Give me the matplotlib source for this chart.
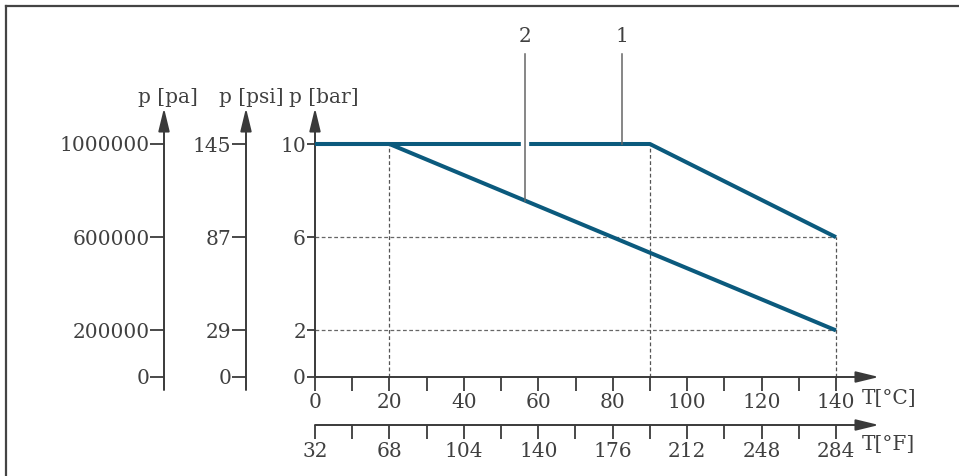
import numpy as np
import matplotlib
matplotlib.use('Agg')
import matplotlib.pyplot as plt
from matplotlib.lines import Line2D

# values
temp_c_ticks = [0, 20, 40, 60, 80, 100, 120, 140]
temp_c_minor = [10, 30, 50, 70, 90, 110, 130]
temp_f_ticks = [32, 68, 104, 140, 176, 212, 248, 284]
temp_f_minor = [50, 86, 122, 158, 194, 230, 266]
bar_ticks = [0, 2, 6, 10]
psi_ticks = [0, 29, 87, 145]
pa_ticks = [0, 200000, 600000, 1000000]

curve1_t = [0, 90, 140]
curve1_p = [10, 10, 6]
curve2_t = [0, 20, 140]
curve2_p = [10, 10, 2]

guide_v_t = [20, 90, 140]
guide_v_p = [10, 10, 6]
guide_h_p = [6, 2]

leader_names = ['1', '2']
leader_t = [82.5, 56.5]
leader_curve = [(curve1_t, curve1_p), (curve2_t, curve2_p)]

W, H = 959, 476
AX = '#3a3a3a'
TXT = '#404040'
BLUE = '#0b5a7d'
FS = 14.5
plt.rcParams['font.family'] = 'DejaVu Serif'

fig = plt.figure(figsize=(W / 100, H / 100), dpi=100)

# frame on left and top
fig.add_artist(Line2D([6 / W, 6 / W], [0, 1 - 6 / H], color='#444444', lw=1.6))
fig.add_artist(Line2D([6 / W, 1], [1 - 6 / H, 1 - 6 / H], color='#444444', lw=1.6))

# main axes: T[°C] against p[bar]
x0, y0, xend, ytop = 315, 377, 879, 108
ax = fig.add_axes([x0 / W, 1 - y0 / H, (xend - x0) / W, (y0 - ytop) / H])
px_c = (836 - 315) / 140.0
px_bar = (377 - 144) / 10.0
xmax = (xend - x0) / px_c
ymax = (y0 - ytop) / px_bar
ax.set_xlim(0, xmax)
ax.set_ylim(0, ymax)
ax.patch.set_visible(False)
for s in ax.spines.values():
    s.set_visible(False)


def arrow(a, p_from, p_to):
    a.annotate('', xy=p_to, xytext=p_from, xycoords='axes fraction',
               arrowprops=dict(arrowstyle='-|>,head_length=14,head_width=3.4',
                               mutation_scale=1, lw=1.4, color=AX,
                               shrinkA=0, shrinkB=0),
               annotation_clip=False)


arrow(ax, (0, 0), (1, 0))
arrow(ax, (0, 0), (0, 1))

ax.set_xticks(temp_c_ticks)
ax.set_xticks(temp_c_minor, minor=True)
ax.set_yticks(bar_ticks)
ax.tick_params(axis='x', which='both', direction='out', length=10, width=1.3,
               color=AX, labelcolor=TXT, labelsize=FS, pad=1.5)
ax.tick_params(axis='y', direction='out', length=6, width=1.3,
               color=AX, labelcolor=TXT, labelsize=FS, pad=0.5)

# dashed guides
ax.vlines(guide_v_t, 0, guide_v_p, colors='#555555', lw=0.9,
          linestyles=(0, (3, 2)), zorder=1)
ax.hlines(guide_h_p, 0, 140, colors='#666666', lw=0.9,
          linestyles=(0, (3, 2)), zorder=1)

# curves
ax.plot(curve2_t, curve2_p, color=BLUE, lw=2.9, solid_capstyle='butt', zorder=3)
ax.plot(curve1_t, curve1_p, color=BLUE, lw=2.9, solid_capstyle='butt', zorder=3)

# leader lines with numbers
top_p = (y0 - 54) / px_bar
lab_p = (y0 - 37) / px_bar
for name, t, (ct, cp) in zip(leader_names, leader_t, leader_curve):
    p_end = np.interp(t, ct, cp)
    if name == '2':
        ax.plot([t, t], [9.82, 10.18], color='white', lw=6, zorder=4,
                solid_capstyle='butt', clip_on=False)
    ax.plot([t, t], [p_end, top_p], color='#666666', lw=1.1, zorder=5,
            clip_on=False)
    ax.text(t, lab_p, name, ha='center', va='center', fontsize=FS, color=TXT,
            clip_on=False)

ax.annotate('T[°C]', xy=(140, 0), xycoords='data', xytext=(26, -12),
            textcoords='offset pixels', ha='left', va='top', fontsize=FS,
            color=TXT, annotation_clip=False)

# Fahrenheit axis below
f_loc = -(425 - y0) / (y0 - ytop)
secf = ax.secondary_xaxis(f_loc, functions=(lambda c: c * 1.8 + 32,
                                            lambda f: (f - 32) / 1.8))
secf.spines['bottom'].set_visible(False)
secf.set_xticks(temp_f_ticks)
secf.set_xticks(temp_f_minor, minor=True)
secf.tick_params(axis='x', which='both', direction='out', length=10, width=1.3,
                 color=AX, labelcolor=TXT, labelsize=FS, pad=2.5)
arrow(ax, (0, f_loc), (1, f_loc))
ax.annotate('T[°F]', xy=(140, 0), xycoords='data', xytext=(26, -58),
            textcoords='offset pixels', ha='left', va='top', fontsize=FS,
            color=TXT, annotation_clip=False)
ax.annotate('p [bar]', xy=(0, 1), xycoords='axes fraction', xytext=(9, 1),
            textcoords='offset pixels', ha='center', va='bottom', fontsize=FS,
            color=TXT, annotation_clip=False)

# psi and pa axes on the left
ybot_px = 390
bar_bottom = -(ybot_px - y0) / px_bar
for xpx, ticks, name, dx in [(246, psi_ticks, 'p [psi]', 5),
                             (164, pa_ticks, 'p [pa]', 4)]:
    k = ticks[-1] / bar_ticks[-1]
    a = fig.add_axes([xpx / W, 1 - ybot_px / H, 0.001, (ybot_px - ytop) / H])
    a.set_ylim(bar_bottom * k, ymax * k)
    a.patch.set_visible(False)
    for s in a.spines.values():
        s.set_visible(False)
    a.xaxis.set_visible(False)
    a.set_yticks(ticks)
    a.set_yticklabels([str(v) for v in ticks])
    a.tick_params(axis='y', direction='out', length=10, width=1.3,
                  color=AX, labelcolor=TXT, labelsize=FS, pad=0.5)
    arrow(a, (0, 0), (0, 1))
    a.annotate(name, xy=(0, 1), xycoords='axes fraction', xytext=(dx, 1),
               textcoords='offset pixels', ha='center', va='bottom',
               fontsize=FS, color=TXT, annotation_clip=False)

fig.savefig('out.png', dpi=100)
